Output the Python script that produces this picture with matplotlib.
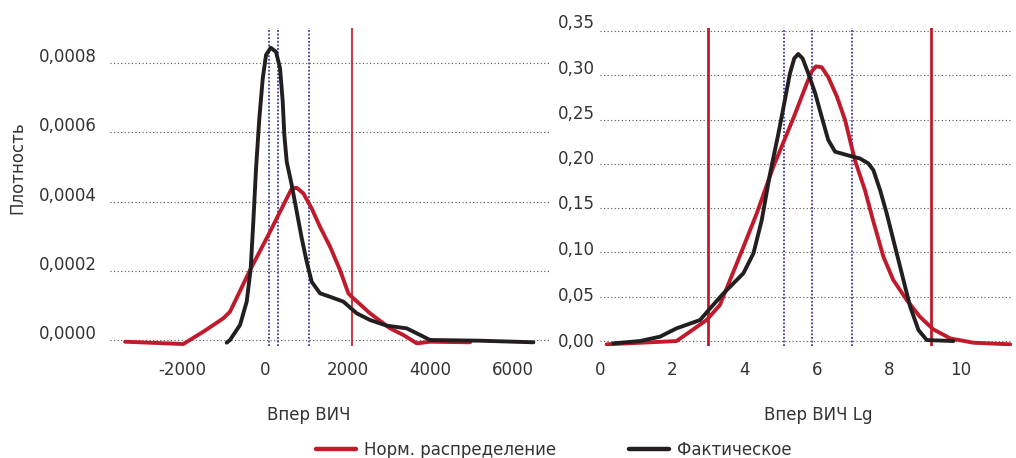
import matplotlib
matplotlib.use("Agg")
import matplotlib.pyplot as plt
from matplotlib.transforms import ScaledTranslation

# ---------------- data ----------------
# Left panel: "Впер ВИЧ"
norm_x1 = [-3385, -1976, -1491, -1007, -845, -683, -361, 123, 446, 649, 770, 930, 1133,
           1334, 1576, 1818, 2019, 2100, 2545, 3029, 3351, 3675, 3998, 4966]
norm_y1 = [-0.0000049, -0.0000116, 0.000024, 0.0000627, 0.0000819, 0.000122, 0.000202,
           0.000313, 0.00039, 0.000438, 0.00044, 0.000424, 0.00038, 0.000327, 0.00027,
           0.000202, 0.000135, 0.000125, 0.0000771, 0.0000337, 0.0000145,
           -0.0000096, -0.0000049, -0.0000066]
fact_x1 = [-925, -845, -603, -441, -344, -281, -215, -136, -53, 27, 140, 269, 366, 431,
           470, 528, 649, 770, 891, 1012, 1133, 1334, 1576, 1898, 2223, 2545, 2949, 3433,
           3675, 3998, 5208, 6499]
fact_y1 = [-0.0000077, 0.0, 0.0000434, 0.000111, 0.000207, 0.000342, 0.000496, 0.00064,
           0.000756, 0.000824, 0.000845, 0.000833, 0.000785, 0.000689, 0.000592, 0.000515,
           0.000448, 0.000371, 0.000294, 0.000226, 0.000168, 0.000135, 0.000125, 0.000111,
           0.0000771, 0.0000578, 0.0000414, 0.0000337, 0.0000193, 0.0, -0.000002,
           -0.0000066]
blue_lines1 = [92, 310, 1068]
red_lines1 = [2116]
xticks1 = [-2000, 0, 2000, 4000, 6000]
xticklabels1 = ["-2000", "0", "2000", "4000", "6000"]
yticks1 = [0.0, 0.0002, 0.0004, 0.0006, 0.0008]
yticklabels1 = ["0,0000", "0,0002", "0,0004", "0,0006", "0,0008"]

# Right panel: "Впер ВИЧ Lg"
norm_x2 = [0.185, 2.12, 2.49, 2.95, 3.32, 3.60, 3.97, 4.34, 4.80, 5.35, 5.73, 5.86, 5.98,
           6.14, 6.32, 6.56, 6.79, 7.06, 7.34, 7.57, 7.85, 8.12, 8.50, 8.86, 9.23, 9.70,
           10.34, 11.36]
norm_y2 = [-0.0037, 0.0, 0.0105, 0.0237, 0.0406, 0.0688, 0.106, 0.144, 0.1967, 0.251,
           0.291, 0.304, 0.310, 0.309, 0.298, 0.276, 0.249, 0.204, 0.170, 0.135, 0.095,
           0.069, 0.046, 0.0274, 0.0132, 0.003, -0.0019, -0.0037]
fact_x2 = [0.37, 1.11, 1.66, 2.12, 2.77, 3.05, 3.42, 3.97, 4.25, 4.48, 4.71, 4.94, 5.12,
           5.26, 5.38, 5.49, 5.61, 5.77, 5.96, 6.14, 6.32, 6.51, 6.83, 7.20, 7.43, 7.57,
           7.76, 7.94, 8.31, 8.59, 8.82, 9.05, 9.79]
fact_y2 = [-0.0026, 0.0, 0.0049, 0.0143, 0.0237, 0.0369, 0.0538, 0.0764, 0.099, 0.1366,
           0.189, 0.234, 0.272, 0.302, 0.319, 0.324, 0.319, 0.302, 0.2796, 0.253, 0.227,
           0.2137, 0.210, 0.206, 0.2005, 0.193, 0.170, 0.144, 0.084, 0.0387, 0.0124,
           0.0011, 0.0]
blue_lines2 = [5.10, 5.86, 6.97]
red_lines2 = [2.98, 9.16]
xticks2 = [0, 2, 4, 6, 8, 10]
xticklabels2 = ["0", "2", "4", "6", "8", "10"]
yticks2 = [0.0, 0.05, 0.10, 0.15, 0.20, 0.25, 0.30, 0.35]
yticklabels2 = ["0,00", "0,05", "0,10", "0,15", "0,20", "0,25", "0,30", "0,35"]

legend_labels = ["Норм. распределение", "Фактическое"]

# ---------------- style ----------------
RED = "#C01B2C"
BLACK = "#231F20"
BLUE = "#26269A"
TXT = "#333333"
GRID = "#555555"
FS = 12

plt.rcParams["font.family"] = ["DejaVu Sans"]

W, H = 1016, 458
fig = plt.figure(figsize=(W / 100, H / 100), dpi=100)
ax1 = fig.add_axes([110 / W, 112 / H, 440 / W, 318 / H])
ax2 = fig.add_axes([600 / W, 112 / H, 412 / W, 318 / H])


def style(ax, xt, xtl, yt, ytl, ypad_pt, yoffs_px):
    for s in ax.spines.values():
        s.set_visible(False)
    ax.set_xticks(xt)
    ax.set_xticklabels(xtl)
    ax.set_yticks(yt)
    ax.set_yticklabels(ytl)
    ax.tick_params(axis="both", length=0, labelsize=FS, labelcolor=TXT)
    ax.tick_params(axis="x", pad=11)
    ax.tick_params(axis="y", pad=ypad_pt)
    ax.grid(False)
    for v in yt:
        ax.axhline(v, color=GRID, lw=0.8, ls=(0, (1, 2.2)), zorder=1)
    for lab, off in zip(ax.get_yticklabels(), yoffs_px):
        lab.set_transform(lab.get_transform() +
                          ScaledTranslation(0, off / 100, fig.dpi_scale_trans))


line_kw = dict(lw=2.8, solid_joinstyle="round", solid_capstyle="round")

# left panel
ax1.set_xlim(-3750, 6900)
ax1.set_ylim(-0.0000173, 0.000902)
for v in blue_lines1:
    ax1.axvline(v, color=BLUE, lw=1.3, ls=(0, (1, 1)), zorder=2, alpha=0.9)
for v in red_lines1:
    ax1.axvline(v, color=RED, lw=1.5, zorder=2, alpha=0.85)
ax1.plot(norm_x1, norm_y1, color=RED, zorder=3, **line_kw)
ax1.plot(fact_x1, fact_y1, color=BLACK, zorder=4, **line_kw)
style(ax1, xticks1, xticklabels1, yticks1, yticklabels1, 9.4, [8] * 5)

# right panel
ax2.set_xlim(0, 11.41)
ax2.set_ylim(-0.0056, 0.3533)
for v in blue_lines2:
    ax2.axvline(v, color=BLUE, lw=1.3, ls=(0, (1, 1)), zorder=2, alpha=0.9)
for v in red_lines2:
    ax2.axvline(v, color=RED, lw=2.0, zorder=2)
ax2.plot(norm_x2, norm_y2, color=RED, zorder=3, **line_kw)
ax2.plot(fact_x2, fact_y2, color=BLACK, zorder=4, **line_kw)
style(ax2, xticks2, xticklabels2, yticks2, yticklabels2, 3.6,
      [0.7, 2.7, 4.0, 5.7, 6.7, 7.7, 8.3, 10])

# axis titles
fig.text(309 / W, 1 - 415 / H, "Впер ВИЧ", ha="center", va="center", fontsize=FS, color=TXT)
fig.text(818 / W, 1 - 415 / H, "Впер ВИЧ Lg", ha="center", va="center", fontsize=FS, color=TXT)
fig.text(17 / W, 1 - 168 / H, "Плотность", ha="center", va="center", rotation=90,
         fontsize=FS, color=TXT)

# legend
h1 = plt.Line2D([], [], color=RED, lw=3.2, solid_capstyle="round")
h2 = plt.Line2D([], [], color=BLACK, lw=3.2, solid_capstyle="round")
leg = fig.legend([h1, h2], legend_labels, loc="center", ncol=2, frameon=False,
                 bbox_to_anchor=(554 / W, 1 - 450 / H), fontsize=FS,
                 handlelength=2.4, handletextpad=0.45, columnspacing=4.4,
                 borderpad=0, borderaxespad=0)
for t in leg.get_texts():
    t.set_color(TXT)

fig.savefig("out.png", dpi=100)
